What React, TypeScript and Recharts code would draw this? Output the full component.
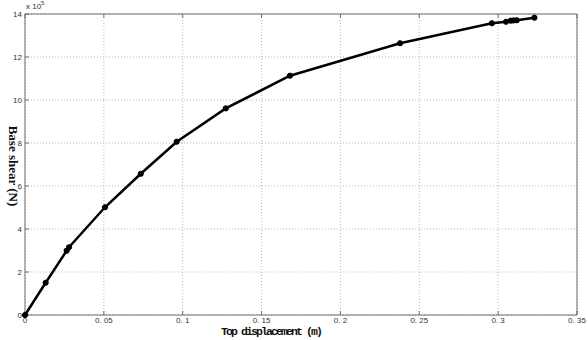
import { LineChart, Line, XAxis, YAxis, CartesianGrid } from 'recharts';

const displacement = [
  0, 0.0131, 0.0264, 0.0279, 0.0507, 0.0734, 0.0962, 0.1273, 0.168, 0.2378,
  0.296, 0.305, 0.308, 0.3097, 0.3118, 0.323,
];
const shear = [
  0, 1.5, 2.99, 3.15, 5.01, 6.57, 8.06, 9.61, 11.13, 12.64, 13.57, 13.64, 13.69,
  13.7, 13.71, 13.83,
];
const xTicks = [0, 0.05, 0.1, 0.15, 0.2, 0.25, 0.3, 0.35];
const yTicks = [0, 2, 4, 6, 8, 10, 12, 14];

const data = displacement.map((d, i) => ({ d, v: shear[i] }));

const axisColor = '#6e6e6e';
const tickFont = { fontSize: 8, fill: '#333', fontFamily: 'Liberation Sans' };
const fmtX = (v: number) => (v === 0 ? '0' : String(v).replace('.', '. '));

export default function App() {
  return (
    <div style={{ position: 'absolute', left: 0, top: 0, background: '#fff' }}>
      <LineChart
        width={588}
        height={340}
        data={data}
        margin={{ top: 0, right: 0, bottom: 0, left: 0 }}
      >
        <CartesianGrid
          xAxisId="bottom"
          yAxisId="left"
          stroke="#b8b8b8"
          strokeDasharray="1 2"
        />
        <XAxis
          xAxisId="bottom"
          dataKey="d"
          type="number"
          domain={[0, 0.35]}
          ticks={xTicks}
          tickFormatter={fmtX}
          height={25}
          stroke={axisColor}
          tickSize={-4}
          tickMargin={6}
          tick={tickFont}
          label={{
            content: () => (
              <text
                x={271}
                y={335}
                textAnchor="middle"
                fontFamily="Liberation Mono"
                fontWeight="bold"
                fontSize={11.5}
                letterSpacing={-1.9}
                fill="#111"
              >
                Top displacement (m)
              </text>
            ),
          }}
        />
        <XAxis
          xAxisId="top"
          orientation="top"
          dataKey="d"
          type="number"
          domain={[0, 0.35]}
          ticks={xTicks}
          tickFormatter={() => ''}
          height={14}
          stroke={axisColor}
          tickSize={-4}
        />
        <YAxis
          yAxisId="left"
          type="number"
          domain={[0, 14]}
          ticks={yTicks}
          width={25}
          stroke={axisColor}
          tickSize={-4}
          tickMargin={7}
          tick={tickFont}
          label={{
            content: () => (
              <g>
                <text
                  x={9}
                  y={166}
                  transform="rotate(90 9 166)"
                  textAnchor="middle"
                  fontFamily="Liberation Serif"
                  fontWeight="bold"
                  fontSize={13}
                  fill="#111"
                >
                  Base shear (N)
                </text>
                <text x={26} y={9} fontFamily="Liberation Sans" fontSize={8} fill="#333">
                  x 10
                </text>
                <text x={41} y={5} fontFamily="Liberation Sans" fontSize={6} fill="#333">
                  5
                </text>
              </g>
            ),
          }}
        />
        <YAxis
          yAxisId="right"
          orientation="right"
          type="number"
          domain={[0, 14]}
          ticks={yTicks}
          width={11}
          stroke={axisColor}
          tickSize={-4}
          tickFormatter={() => ''}
        />
        <Line
          xAxisId="bottom"
          yAxisId="left"
          type="linear"
          dataKey="v"
          stroke="#000"
          strokeWidth={2.5}
          dot={{ r: 2.6, fill: '#000', stroke: '#000', strokeWidth: 1 }}
          isAnimationActive={false}
        />
      </LineChart>
    </div>
  );
}
